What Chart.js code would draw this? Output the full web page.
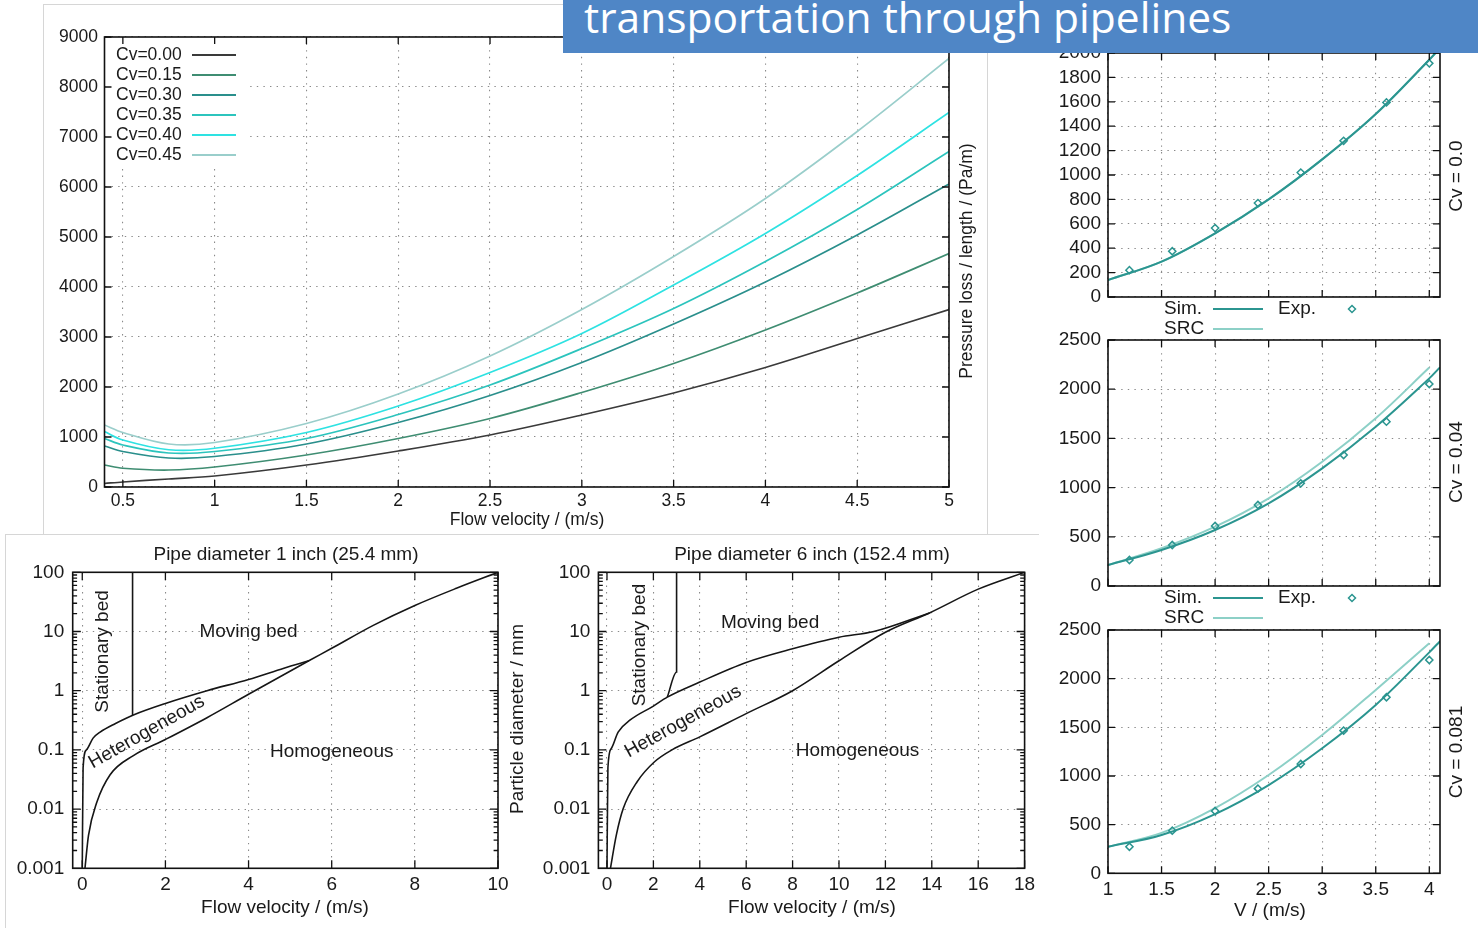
<!DOCTYPE html>
<html>
<head>
<meta charset="utf-8">
<title>Slurry transportation through pipelines</title>
<script src="https://cdn.jsdelivr.net/npm/chart.js@4.4.1/dist/chart.umd.min.js"></script>
<style>
  html, body { margin: 0; padding: 0; background: #fff; }
  body { position: relative; width: 1478px; height: 928px; overflow: hidden; font-family: "Liberation Sans", Arial, sans-serif; }
  .card { position: absolute; background: #fff; box-sizing: border-box; }
  canvas { position: absolute; }
  #banner { position: absolute; left: 563px; top: 0; width: 915px; height: 53px; background: #4f86c6; overflow: hidden; z-index: 10; }
  #banner span { position: absolute; left: 21px; top: -4px; font-family: "Open Sans", sans-serif; font-size: 42.5px; line-height: 42px; color: #fff; white-space: nowrap; }
</style>
</head>
<body>
<div class="card" style="left:5px;top:534px;width:1034px;height:400px;border-top:1px solid #d6d6d6;border-left:1px solid #d6d6d6;"></div>
<div class="card" style="left:43px;top:4px;width:945px;height:531px;border:1px solid #d6d6d6;"></div>
<canvas id="lossChart"></canvas>
<canvas id="cv0Chart"></canvas>
<canvas id="cv004Chart"></canvas>
<canvas id="cv0081Chart"></canvas>
<canvas id="pipe1Chart"></canvas>
<canvas id="pipe6Chart"></canvas>
<div id="banner"><span>transportation through pipelines</span></div>

<script>
// ---------- Pressure loss per length vs. flow velocity ----------
const flowVelocity = [0.4, 0.5, 0.75, 1, 1.5, 2, 2.5, 3, 3.5, 4, 4.5, 5];
const lossCv000 = [70, 100, 160, 220, 440, 720, 1040, 1440, 1880, 2390, 2970, 3550];
const lossCv015 = [440, 375, 340, 400, 640, 970, 1370, 1890, 2470, 3140, 3880, 4670];
const lossCv030 = [820, 710, 580, 610, 860, 1290, 1830, 2490, 3260, 4100, 5040, 6060];
const lossCv035 = [970, 840, 680, 710, 970, 1450, 2040, 2770, 3570, 4510, 5550, 6710];
const lossCv040 = [1110, 940, 745, 775, 1090, 1620, 2290, 3070, 4040, 5070, 6230, 7490];
const lossCv045 = [1240, 1090, 860, 890, 1270, 1860, 2620, 3550, 4610, 5770, 7110, 8570];
const concentrationLabels = ['Cv=0.00', 'Cv=0.15', 'Cv=0.30', 'Cv=0.35', 'Cv=0.40', 'Cv=0.45'];
const concentrationColors = ['#3a3a3a', '#3f8d72', '#2a8f8c', '#2cc4bd', '#2ee2e2', '#9acecb'];
const velocityTicks = [0.5, 1, 1.5, 2, 2.5, 3, 3.5, 4, 4.5, 5];
const velocityTickLabels = ['0.5', '1', '1.5', '2', '2.5', '3', '3.5', '4', '4.5', '5'];
const lossTicks = [0, 1000, 2000, 3000, 4000, 5000, 6000, 7000, 8000, 9000];

// ---------- Simulation vs. experiment, three concentrations ----------
const expVelocity = [1.2, 1.6, 2.0, 2.4, 2.8, 3.2, 3.6, 4.0];
const expCv0 = [220, 375, 565, 770, 1020, 1280, 1595, 1915];
const expCv004 = [264, 417, 610, 823, 1043, 1331, 1670, 2053];
const expCv0081 = [273, 438, 640, 870, 1123, 1466, 1809, 2192];
const simVelocity = [1, 1.5, 2, 2.5, 3, 3.5, 4, 4.1];
const simCv0 = [139, 290, 522, 800, 1128, 1500, 1945, 2040];
const simCv004 = [213, 366, 569, 840, 1196, 1619, 2110, 2222];
const simCv0081 = [273, 394, 609, 907, 1285, 1730, 2270, 2385];
const srcVelocity = [1, 1.5, 2, 2.5, 3, 3.5, 4, 4.1];
const srcCv0 = [139, 290, 522, 800, 1128, 1500, 1945, 2040];
const srcVelocityShort = [1, 1.5, 2, 2.5, 3, 3.5, 4];
const srcCv004 = [213, 383, 603, 891, 1263, 1704, 2220];
const srcCv0081 = [273, 415, 670, 1010, 1421, 1884, 2364];
const vTicks = [1, 1.5, 2, 2.5, 3, 3.5, 4];
const vTickLabels = ['1', '1.5', '2', '2.5', '3', '3.5', '4'];
const cv0Ticks = [0, 200, 400, 600, 800, 1000, 1200, 1400, 1600, 1800, 2000];
const cvTicks = [0, 500, 1000, 1500, 2000, 2500];

// ---------- Flow regime maps (particle diameter vs. flow velocity) ----------
const pipe1UpperV = [0.0, 0.02, 0.1, 0.26, 0.43, 0.8, 1.23, 2.0, 3.0, 4.0, 4.85, 5.45];
const pipe1UpperD = [0.001, 0.05, 0.1, 0.158, 0.2, 0.28, 0.39, 0.61, 1.0, 1.55, 2.4, 3.2];
const pipe1LowerV = [0.065, 0.15, 0.35, 0.67, 1.23, 2.0, 3.0, 4.0, 5.45, 6.0, 7.0, 8.0, 9.0, 10.0];
const pipe1LowerD = [0.001, 0.0036, 0.013, 0.038, 0.08, 0.15, 0.35, 0.87, 3.2, 5.2, 12.7, 27.5, 53.7, 100];
const pipe1BedV = [1.21, 1.21];
const pipe1BedD = [100, 0.39];
const pipe6UpperV = [0.0, 0.04, 0.18, 0.48, 1.0, 2.0, 2.6, 4.0, 6.0, 8.0, 10.0, 11.5, 13.9];
const pipe6UpperD = [0.001, 0.05, 0.105, 0.2, 0.32, 0.55, 0.78, 1.4, 3.0, 5.1, 8.0, 10, 20.6];
const pipe6LowerV = [0.15, 0.4, 0.7, 1.3, 2.05, 2.8, 4.0, 6.0, 8.0, 10.0, 12.0, 13.9, 16.0, 18.0];
const pipe6LowerD = [0.001, 0.0036, 0.0102, 0.029, 0.063, 0.1, 0.166, 0.41, 1.0, 3.2, 9.7, 20.6, 52, 100];
const pipe6BedV = [3.0, 3.0, 2.6];
const pipe6BedD = [100, 2.07, 0.78];
const pipe1VTicks = [0, 2, 4, 6, 8, 10];
const pipe6VTicks = [0, 2, 4, 6, 8, 10, 12, 14, 16, 18];
const diameterTicks = [0.001, 0.01, 0.1, 1, 10, 100];
const diameterTickLabels = ['0.001', '0.01', '0.1', '1', '10', '100'];

// ---------------------------------------------------------------------------
const FONT = 'Liberation Sans';
const INK = '#1a1a1a';
const GRID = '#8a8a8a';

const zip = (xs, ys) => xs.map((x, i) => ({ x, y: ys[i] }));
const minorLogTicks = (lo, hi) => {
  const out = [];
  for (let e = lo; e < hi; e++) for (let m = 2; m <= 9; m++) out.push(m * Math.pow(10, e));
  return out;
};

// Frame, inward ticks, legends and free text for gnuplot-style panels
const framePlugin = {
  id: 'frame',
  afterDatasetsDraw(chart, args, o) {
    const ctx = chart.ctx, a = chart.chartArea;
    const xs = chart.scales.x, ys = chart.scales.y;
    const ox = o.origin[0], oy = o.origin[1];
    ctx.save();

    // boxed legend inside the plot (main chart)
    if (o.boxLegend) {
      const L = o.boxLegend;
      ctx.fillStyle = '#fff';
      ctx.fillRect(a.left + 1, a.top + 1, L.right - ox - a.left - 1, L.bottom - oy - a.top - 1);
      ctx.font = L.size + 'px "' + FONT + '"';
      ctx.textBaseline = 'middle';
      ctx.textAlign = 'left';
      chart.data.datasets.forEach((ds, i) => {
        const y = L.y0 + i * L.dy - oy;
        ctx.fillStyle = INK;
        ctx.fillText(ds.label, L.textX - ox, y);
        ctx.strokeStyle = ds.borderColor;
        ctx.lineWidth = 2;
        ctx.beginPath();
        ctx.moveTo(L.lineX0 - ox, y);
        ctx.lineTo(L.lineX1 - ox, y);
        ctx.stroke();
      });
    }

    // legend below the plot (validation panels)
    if (o.lowLegend) {
      const L = o.lowLegend;
      ctx.font = L.size + 'px "' + FONT + '"';
      ctx.textBaseline = 'middle';
      ctx.textAlign = 'left';
      L.items.forEach(it => {
        const ds = chart.data.datasets[it.ds];
        const y = it.y - oy;
        ctx.fillStyle = INK;
        ctx.fillText(ds.label, it.textX - ox, y);
        ctx.strokeStyle = ds.borderColor;
        if (it.marker) {
          ctx.lineWidth = 1.5;
          const cx = it.markerX - ox, r = 3.5;
          ctx.beginPath();
          ctx.moveTo(cx, y - r); ctx.lineTo(cx + r, y); ctx.lineTo(cx, y + r); ctx.lineTo(cx - r, y); ctx.closePath();
          ctx.stroke();
        } else {
          ctx.lineWidth = 2;
          ctx.beginPath();
          ctx.moveTo(it.lineX0 - ox, y); ctx.lineTo(it.lineX1 - ox, y);
          ctx.stroke();
        }
      });
    }

    // inward tick marks on all four sides
    ctx.strokeStyle = '#111';
    ctx.lineWidth = 1.3;
    ctx.beginPath();
    const T = o.tickLen, t = o.tickLen * 0.55;
    (o.xTicks || []).forEach(v => {
      const p = xs.getPixelForValue(v);
      ctx.moveTo(p, a.bottom); ctx.lineTo(p, a.bottom - T);
      ctx.moveTo(p, a.top); ctx.lineTo(p, a.top + T);
    });
    (o.yTicks || []).forEach(v => {
      const p = ys.getPixelForValue(v);
      ctx.moveTo(a.left, p); ctx.lineTo(a.left + T, p);
      ctx.moveTo(a.right, p); ctx.lineTo(a.right - T, p);
    });
    (o.yMinor || []).forEach(v => {
      const p = ys.getPixelForValue(v);
      ctx.moveTo(a.left, p); ctx.lineTo(a.left + t, p);
      ctx.moveTo(a.right, p); ctx.lineTo(a.right - t, p);
    });
    ctx.stroke();
    ctx.lineWidth = 1.6;
    ctx.strokeRect(a.left, a.top, a.right - a.left, a.bottom - a.top);

    // titles and region labels
    (o.texts || []).forEach(tx => {
      let x, y;
      if (tx.data) { x = xs.getPixelForValue(tx.x); y = ys.getPixelForValue(tx.y); }
      else { x = tx.x - ox; y = tx.y - oy; }
      ctx.save();
      ctx.translate(x, y);
      if (tx.rot) ctx.rotate(tx.rot * Math.PI / 180);
      ctx.font = tx.size + 'px "' + FONT + '"';
      ctx.fillStyle = INK;
      ctx.textAlign = 'center';
      ctx.textBaseline = 'middle';
      ctx.fillText(tx.text, 0, 0);
      ctx.restore();
    });
    ctx.restore();
  }
};

// Places a canvas at a page box and pins its plot area to the given page rectangle
function panel(id, box, area, cfg) {
  const cv = document.getElementById(id);
  const w = box.right - box.left, h = box.bottom - box.top;
  cv.style.left = box.left + 'px';
  cv.style.top = box.top + 'px';
  cv.style.width = w + 'px';
  cv.style.height = h + 'px';
  cv.width = w; cv.height = h;
  const yWidth = area.left - box.left;
  const xHeight = box.bottom - area.bottom;
  const x = cfg.x, y = cfg.y;
  const fixTicks = (list) => (s) => { s.ticks = list.map(v => ({ value: v })); };
  const noPad = (s) => { s.paddingTop = 0; s.paddingBottom = 0; s.paddingLeft = 0; s.paddingRight = 0; };
  const scales = {
    x: {
      type: 'linear', min: x.min, max: x.max,
      afterBuildTicks: fixTicks(x.ticks),
      afterFit: (s) => { s.height = xHeight; noPad(s); },
      grid: { color: GRID, lineWidth: 1.1, drawTicks: false, drawOnChartArea: true },
      border: { display: false, dash: [1.4, 5.2] },
      ticks: {
        display: x.showLabels !== false, padding: x.pad, color: INK, maxRotation: 0, autoSkip: false,
        font: { family: FONT, size: cfg.size },
        callback: (v, i) => x.labels[i]
      }
    },
    y: {
      type: y.type || 'linear', min: y.min, max: y.max,
      afterBuildTicks: fixTicks(y.ticks),
      afterFit: (s) => { s.width = yWidth; noPad(s); },
      grid: { color: GRID, lineWidth: 1.1, drawTicks: false },
      border: { display: false, dash: [1.4, 5.2] },
      ticks: {
        padding: y.pad, color: INK, autoSkip: false,
        font: { family: FONT, size: cfg.size },
        callback: (v, i) => y.labels[i]
      }
    }
  };
  cfg.frame.origin = [box.left, box.top];
  return new Chart(cv, {
    type: 'line',
    data: { datasets: cfg.datasets },
    options: {
      responsive: false, animation: false, devicePixelRatio: 1,
      layout: { padding: { top: area.top - box.top, right: box.right - area.right, left: 0, bottom: 0 } },
      scales,
      plugins: { legend: { display: false }, tooltip: { enabled: false }, title: { display: false }, frame: cfg.frame }
    },
    plugins: [framePlugin]
  });
}

const lineSet = (label, xs, ys, color, width, extra) => Object.assign({
  label, data: zip(xs, ys), borderColor: color, backgroundColor: color,
  borderWidth: width, pointRadius: 0, fill: false, tension: 0.35
}, extra || {});

// ---------- Main chart ----------
const lossSeries = [lossCv000, lossCv015, lossCv030, lossCv035, lossCv040, lossCv045];
panel('lossChart',
  { left: 43, top: 4, right: 988, bottom: 535 },
  { left: 104.5, top: 37, right: 949, bottom: 487 },
  {
    size: 17.5,
    x: { min: 0.4, max: 5, ticks: velocityTicks, labels: velocityTickLabels, pad: 3.5 },
    y: { min: 0, max: 9000, ticks: lossTicks, labels: lossTicks.map(String), pad: 6.5 },
    datasets: lossSeries.map((s, i) => lineSet(concentrationLabels[i], flowVelocity, s, concentrationColors[i], 1.7)),
    frame: {
      tickLen: 7, xTicks: velocityTicks, yTicks: lossTicks,
      boxLegend: { right: 246, bottom: 167, y0: 55, dy: 20, textX: 116, lineX0: 192, lineX1: 236, size: 17.5 },
      texts: [
        { text: 'Flow velocity / (m/s)', x: 527, y: 520, size: 17.5 },
        { text: 'Pressure loss / length / (Pa/m)', x: 967, y: 261, size: 17.5, rot: -90 }
      ]
    }
  });

// ---------- Validation panels ----------
const SIM = '#2b9590', SRC = '#8dd0c7';
const expSet = (xs, ys) => ({
  label: 'Exp.', data: zip(xs, ys), showLine: false, borderColor: SIM, backgroundColor: 'rgba(255,255,255,0)',
  pointStyle: 'rectRot', pointRadius: 3.6, pointBorderWidth: 1.5, borderWidth: 1.5
});
const valPanel = (id, box, area, yMax, yTicks, sim, srcX, src, exp, cvText, cvY, legendY, showX) => panel(id, box, area, {
  size: 19,
  x: { min: 1, max: 4.1, ticks: vTicks, labels: vTickLabels, pad: 5.3, showLabels: showX },
  y: { min: 0, max: yMax, ticks: yTicks, labels: yTicks.map(String), pad: 7 },
  datasets: [
    lineSet('Sim.', simVelocity, sim, SIM, 2),
    expSet(expVelocity, exp),
    lineSet('SRC', srcX, src, SRC, 2)
  ],
  frame: {
    tickLen: 7, xTicks: vTicks, yTicks: yTicks,
    lowLegend: legendY === null ? null : {
      size: 19,
      items: [
        { ds: 0, y: legendY, textX: 1164, lineX0: 1213, lineX1: 1263 },
        { ds: 1, y: legendY, textX: 1278, marker: true, markerX: 1352 },
        { ds: 2, y: legendY + 20, textX: 1164, lineX0: 1213, lineX1: 1263 }
      ]
    },
    texts: [{ text: cvText, x: 1457, y: cvY, size: 19, rot: -90 }].concat(
      showX ? [{ text: 'V / (m/s)', x: 1270, y: 911, size: 19 }] : [])
  }
});

valPanel('cv0Chart', { left: 1045, top: 40, right: 1478, bottom: 342 }, { left: 1108, top: 53, right: 1440, bottom: 297 },
  2000, cv0Ticks, simCv0, srcVelocity, srcCv0, expCv0, 'Cv = 0.0', 176, 309, false);
valPanel('cv004Chart', { left: 1045, top: 330, right: 1478, bottom: 632 }, { left: 1108, top: 340, right: 1440, bottom: 586 },
  2500, cvTicks, simCv004, srcVelocityShort, srcCv004, expCv004, 'Cv = 0.04', 462, 598, false);
valPanel('cv0081Chart', { left: 1045, top: 620, right: 1478, bottom: 928 }, { left: 1108, top: 630, right: 1440, bottom: 873.3 },
  2500, cvTicks, simCv0081, srcVelocityShort, srcCv0081, expCv0081, 'Cv = 0.081', 752, null, true);

// ---------- Flow regime maps ----------
const regimeSet = (xs, ys) => lineSet('', xs, ys, '#161616', 1.6, { tension: 0, cubicInterpolationMode: 'monotone' });
panel('pipe1Chart', { left: 5, top: 537, right: 510, bottom: 928 }, { left: 72.7, top: 572.3, right: 498, bottom: 868.3 }, {
  size: 19,
  x: { min: -0.23, max: 10, ticks: pipe1VTicks, labels: pipe1VTicks.map(String), pad: 5.3 },
  y: { type: 'logarithmic', min: 0.001, max: 100, ticks: diameterTicks, labels: diameterTickLabels, pad: 8.5 },
  datasets: [regimeSet(pipe1UpperV, pipe1UpperD), regimeSet(pipe1LowerV, pipe1LowerD), regimeSet(pipe1BedV, pipe1BedD)],
  frame: {
    tickLen: 8, xTicks: pipe1VTicks, yTicks: diameterTicks, yMinor: minorLogTicks(-3, 2),
    texts: [
      { text: 'Pipe diameter 1 inch (25.4 mm)', x: 286, y: 555, size: 19 },
      { text: 'Flow velocity / (m/s)', x: 285, y: 908, size: 19 },
      { text: 'Stationary bed', data: true, x: 0.5, y: 4.6, size: 19, rot: -90 },
      { text: 'Moving bed', data: true, x: 4.0, y: 9.8, size: 19 },
      { text: 'Heterogeneous', data: true, x: 1.55, y: 0.2, size: 19, rot: -29.6 },
      { text: 'Homogeneous', data: true, x: 6.0, y: 0.093, size: 19 }
    ]
  }
});

panel('pipe6Chart', { left: 500, top: 537, right: 1036, bottom: 928 }, { left: 598.4, top: 572.3, right: 1024.6, bottom: 868.3 }, {
  size: 19,
  x: { min: -0.37, max: 18, ticks: pipe6VTicks, labels: pipe6VTicks.map(String), pad: 5.3 },
  y: { type: 'logarithmic', min: 0.001, max: 100, ticks: diameterTicks, labels: diameterTickLabels, pad: 8 },
  datasets: [regimeSet(pipe6UpperV, pipe6UpperD), regimeSet(pipe6LowerV, pipe6LowerD), regimeSet(pipe6BedV, pipe6BedD)],
  frame: {
    tickLen: 8, xTicks: pipe6VTicks, yTicks: diameterTicks, yMinor: minorLogTicks(-3, 2),
    texts: [
      { text: 'Pipe diameter 6 inch (152.4 mm)', x: 812, y: 555, size: 19 },
      { text: 'Flow velocity / (m/s)', x: 812, y: 908, size: 19 },
      { text: 'Particle diameter / mm', x: 518, y: 719, size: 19, rot: -90 },
      { text: 'Stationary bed', data: true, x: 1.42, y: 5.9, size: 19, rot: -90 },
      { text: 'Moving bed', data: true, x: 7.03, y: 14, size: 19 },
      { text: 'Heterogeneous', data: true, x: 3.28, y: 0.3, size: 19, rot: -29 },
      { text: 'Homogeneous', data: true, x: 10.8, y: 0.095, size: 19 }
    ]
  }
});
</script>
</body>
</html>
